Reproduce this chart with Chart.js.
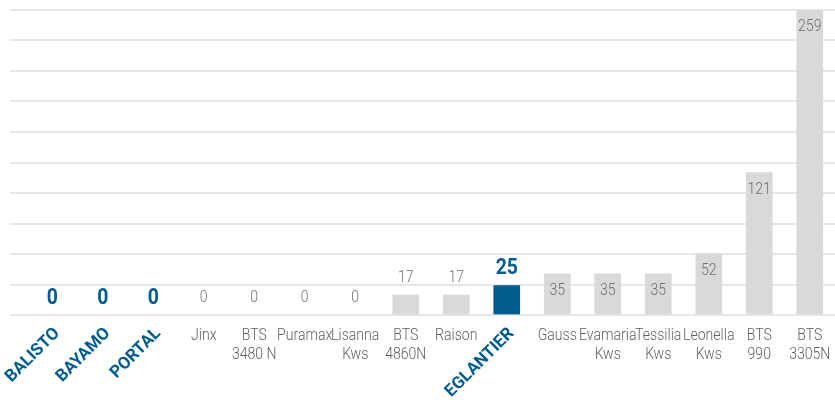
<!DOCTYPE html>
<html><head><meta charset="utf-8">
<script src="https://cdn.jsdelivr.net/npm/chart.js@4.4.0/dist/chart.umd.min.js"></script>
<style>html,body{margin:0;padding:0;background:#fff}#wrap{width:835px;height:400px;position:relative}</style>
</head><body><div id="wrap"><canvas id="c"></canvas></div>
<script>
const categories = [["BALISTO"],["BAYAMO"],["PORTAL"],["Jinx"],["BTS","3480 N"],["Puramax"],["Lisanna","Kws"],["BTS","4860N"],["Raison"],["EGLANTIER"],["Gauss"],["Evamaria","Kws"],["Tessilia","Kws"],["Leonella","Kws"],["BTS","990"],["BTS","3305N"]];
const values = [0,0,0,0,0,0,0,17,17,25,35,35,35,52,121,259];
const highlighted = [true,true,true,false,false,false,false,false,false,true,false,false,false,false,false,false];
const yMin = 0;
const yMax = 259;
const yTickCount = 11;

const BLUE = '#005b8f';
const GREY_BAR = '#d9d9d9';
const FONT = 'Roboto, "Noto Sans", sans-serif';

function condensedText(ctx, text, x, y, sx) {
  ctx.save();
  ctx.translate(x, y);
  ctx.scale(sx, 1);
  ctx.fillText(text, 0, 0);
  ctx.restore();
}

const labelPlugin = {
  id: 'customLabels',
  afterDatasetsDraw(chart) {
    const ctx = chart.ctx;
    const meta = chart.getDatasetMeta(0);
    ctx.save();
    values.forEach((v, i) => {
      const bar = meta.data[i];
      const x = bar.x;
      const top = bar.y;
      ctx.textAlign = 'center';
      ctx.textBaseline = 'middle';
      if (highlighted[i]) {
        ctx.font = 'bold 22px ' + FONT;
        ctx.fillStyle = BLUE;
        condensedText(ctx, String(v), x, top - 17, 0.88);
      } else {
        ctx.font = '300 16px ' + FONT;
        ctx.fillStyle = '#707070';
        if (v >= 30) condensedText(ctx, String(v), x, top + 17, 0.88);
        else condensedText(ctx, String(v), x, top - 17, 0.88);
      }
      const lines = categories[i];
      if (highlighted[i]) {
        ctx.save();
        ctx.translate(x + 5, 331);
        ctx.rotate(-Math.PI / 4);
        ctx.font = 'bold 17px ' + FONT;
        ctx.fillStyle = BLUE;
        ctx.textAlign = 'right';
        ctx.textBaseline = 'middle';
        ctx.fillText(lines.join(' '), 0, 0);
        ctx.restore();
      } else {
        ctx.font = '300 16px ' + FONT;
        ctx.fillStyle = '#606060';
        lines.forEach((t, k) => condensedText(ctx, t, x, 336 + k * 19, 0.88));
      }
    });
    ctx.restore();
  }
};

new Chart(document.getElementById('c'), {
  type: 'bar',
  data: {
    labels: categories,
    datasets: [{
      data: values,
      backgroundColor: values.map((v, i) => v === 0 ? 'rgba(0,0,0,0)' : (highlighted[i] ? BLUE : GREY_BAR)),
      borderWidth: 0,
      barThickness: 26
    }]
  },
  options: {
    responsive: true,
    maintainAspectRatio: false,
    animation: false,
    layout: { padding: { left: 10, right: 0, top: 10, bottom: 85 } },
    plugins: { legend: { display: false }, tooltip: { enabled: false } },
    scales: {
      x: { display: false, offset: true },
      y: {
        min: yMin, max: yMax,
        ticks: { display: false, count: yTickCount },
        grid: { color: '#e6e6e6', lineWidth: 2, drawTicks: true, tickLength: 17 },
        border: { display: false }
      }
    }
  },
  plugins: [labelPlugin]
});
</script>
</body></html>
